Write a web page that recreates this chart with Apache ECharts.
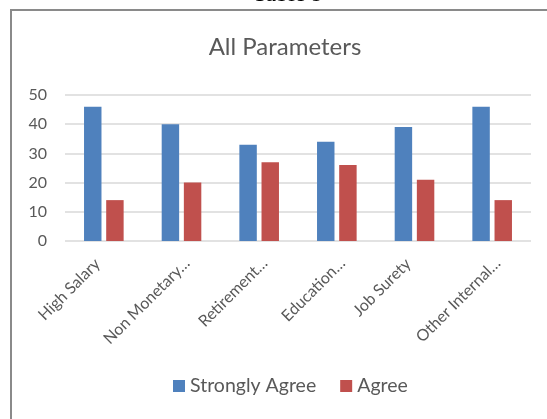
<!DOCTYPE html>
<html>
<head>
<meta charset="utf-8">
<script src="https://cdn.jsdelivr.net/npm/echarts@6/dist/echarts.min.js"></script>
<style>
  html, body { margin: 0; padding: 0; background: #ffffff; }
  #chart { width: 547px; height: 419px; }
</style>
</head>
<body>
<div id="chart"></div>
<script>
// Survey responses per job parameter
const categories = ['High Salary', 'Non Monetary…', 'Retirement…', 'Education…', 'Job Surety', 'Other Internal…'];
const stronglyAgree = [46, 40, 33, 34, 39, 46];
const agree = [14, 20, 27, 26, 21, 14];
const yTicks = { min: 0, max: 50, interval: 10 };

const textColor = '#595959';
const gridColor = '#d9d9d9';
const uiFont = 'Lato, "Open Sans", sans-serif';

// Shortened (…) labels fill their slot; full labels sit a little further down the slant.
const categoryItems = categories.map(function (name) {
  if (name.endsWith('…')) return name;
  return { value: name, textStyle: { padding: [0, 9, 0, 0] } };
});

const chart = echarts.init(document.getElementById('chart'), null, { renderer: 'canvas' });

chart.setOption({
  animation: false,
  backgroundColor: '#ffffff',
  textStyle: { fontFamily: uiFont, color: textColor },
  graphic: [
    // caption above the chart frame
    {
      type: 'text',
      z: 10,
      style: {
        text: 'Table 9',
        x: 288, y: -5,
        align: 'center', verticalAlign: 'middle',
        font: '24px "Liberation Serif", "Times New Roman", serif',
        fill: '#000000'
      }
    },
    // frame: left and top edges
    {
      type: 'polyline',
      z: 10,
      shape: { points: [[11, 430], [11, 10], [560, 10]] },
      style: { stroke: '#8a8a8a', lineWidth: 2, fill: null }
    },
    {
      type: 'text',
      z: 10,
      style: {
        text: 'All Parameters',
        x: 285, y: 47,
        align: 'center', verticalAlign: 'middle',
        font: '24px ' + uiFont,
        fill: textColor
      }
    }
  ],
  legend: {
    data: ['Strongly Agree', 'Agree'],
    left: 173,
    top: 376,
    padding: 0,
    icon: 'rect',
    itemWidth: 12,
    itemHeight: 12,
    itemGap: 24,
    textStyle: { fontSize: 19.5, color: textColor, fontFamily: uiFont, padding: [0, 0, 0, 0], lineHeight: 19 }
  },
  grid: { left: 65, right: 16, top: 95, bottom: 178, containLabel: false },
  xAxis: {
    type: 'category',
    data: categoryItems,
    axisLine: { show: false },
    axisTick: { show: false },
    axisLabel: {
      interval: 0,
      rotate: 45,
      verticalAlign: 'top',
      margin: 14,
      fontSize: 16,
      color: textColor,
      fontFamily: uiFont
    }
  },
  yAxis: {
    type: 'value',
    min: yTicks.min,
    max: yTicks.max,
    interval: yTicks.interval,
    axisLine: { show: false },
    axisTick: { show: false },
    axisLabel: { margin: 18, fontSize: 16, color: textColor, fontFamily: uiFont },
    splitLine: { lineStyle: { color: gridColor, width: 1.5 } }
  },
  series: [
    {
      name: 'Strongly Agree',
      type: 'bar',
      data: stronglyAgree,
      barGap: '27%',
      barCategoryGap: '49%',
      itemStyle: { color: '#4f81bd' }
    },
    {
      name: 'Agree',
      type: 'bar',
      data: agree,
      itemStyle: { color: '#c0504d' }
    }
  ]
});
</script>
</body>
</html>
